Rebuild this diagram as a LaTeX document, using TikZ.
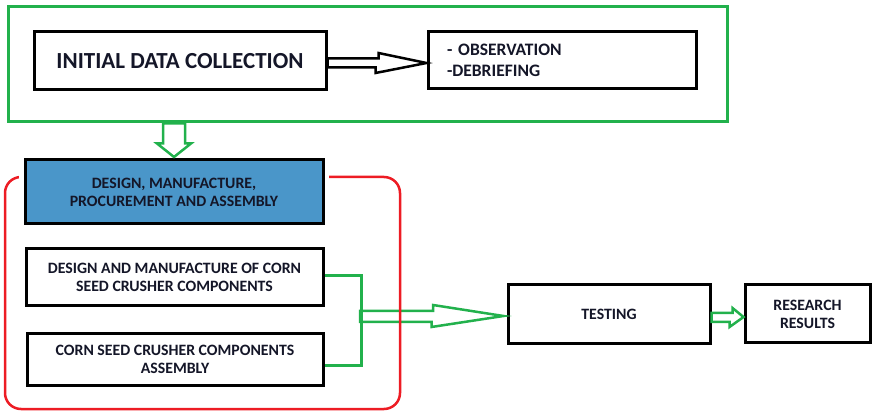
\documentclass[tikz,border=0pt]{standalone}
\usepackage{fontspec}
\setmainfont{Carlito}
\usetikzlibrary{calc}
\definecolor{pgreen}{RGB}{34,177,76}
\definecolor{pred}{RGB}{237,28,36}
\definecolor{pblue}{RGB}{74,150,201}
\definecolor{ink}{RGB}{20,22,40}
\begin{document}
\begin{tikzpicture}[x=1pt,y=-1pt,
  box/.style={draw=black, line width=3pt, fill=white, inner sep=0pt, align=center, text=ink,
    font=\bfseries\fontsize{15.8}{18}\selectfont},
  framebox/.style={line width=3pt, inner sep=0pt},
  hollow/.style={line width=2.5pt, line join=miter},
  bracket/.style={draw=pgreen, line width=2.5pt},
]
\useasboundingbox (0,0) rectangle (875,411);

% phase 1 frame
\node[framebox, draw=pgreen, minimum width=719pt, minimum height=115pt] (phase) at (367.5,64.5) {};
\node[box, minimum width=292pt, minimum height=58pt, font=\bfseries\fontsize{23}{27}\selectfont] (idc) at (180,61) {INITIAL DATA COLLECTION};
\node[box, minimum width=268pt, minimum height=57pt, text width=230pt, align=left,
  font=\bfseries\fontsize{17.5}{21}\selectfont] (obs) at (562,60.5) {- OBSERVATION\\-DEBRIEFING};
\draw[hollow, draw=black] ($(idc.east)+(0,-2.5)$) -- ++(51,0) -- ++(0,-5.5) -- ($(obs.west)+(0,2.5)$)
  -- ++(-51,10) -- ++(0,-5.5) -- ($(idc.east)+(0,6.5)$) -- cycle;

% lower boxes
\node[box, minimum width=297pt, minimum height=57pt] (dmc) at (174.5,277.5) {DESIGN AND MANUFACTURE OF CORN\\SEED CRUSHER COMPONENTS};
\node[box, minimum width=296pt, minimum height=51pt] (asm) at (175,359.5) {CORN SEED CRUSHER COMPONENTS\\ASSEMBLY};
\node[box, minimum width=202pt, minimum height=59pt] (testing) at (609,314.5) {TESTING};
\node[box, minimum width=125pt, minimum height=58pt] (results) at (807.5,314) {RESEARCH\\RESULTS};

% bracket and arrow to testing
\draw[bracket] ($(dmc.east)+(0,-2)$) -- ++(37,0) |- ($(asm.east)+(0,6)$);
\coordinate (m) at (360,316.5);
\draw[hollow, draw=pgreen] ($(m)+(0,-5.5)$) -- ++(73,0) -- ++(0,-6) -- ($(testing.west)+(-3,1.5)$)
  -- ++(-72,11) -- ++(0,-5) -- ($(m)+(0,5.5)$) -- cycle;
\draw[hollow, draw=pgreen] ($(testing.east)+(0,-1.5)$) -- ++(21,0) -- ++(0,-5) -- ($(results.west)+(0,3)$)
  -- ++(-14,10) -- ++(0,-5) -- ($(testing.east)+(0,7.5)$) -- cycle;

% stage 2 frame
\node[framebox, draw=pred, line width=2.5pt, rounded corners=16pt, minimum width=395pt, minimum height=232pt] (stage) at (202.5,293) {};
\node[box, fill=pblue, preaction={draw=white, line width=12pt}, minimum width=298pt, minimum height=64pt] (dmpa) at (174,192) {DESIGN, MANUFACTURE,\\PROCUREMENT AND ASSEMBLY};

% arrow down
\coordinate (d0) at (dmpa.north |- phase.south);
\draw[hollow, draw=pgreen, fill=white] ($(d0)+(-11,0)$) -- ++(0,20) -- ++(-6,0) -- ($(dmpa.north)+(0,-1.5)$)
  -- ($(d0)+(17,20)$) -- ++(-6,0) -- ($(d0)+(11,0)$) -- cycle;
\end{tikzpicture}
\end{document}
